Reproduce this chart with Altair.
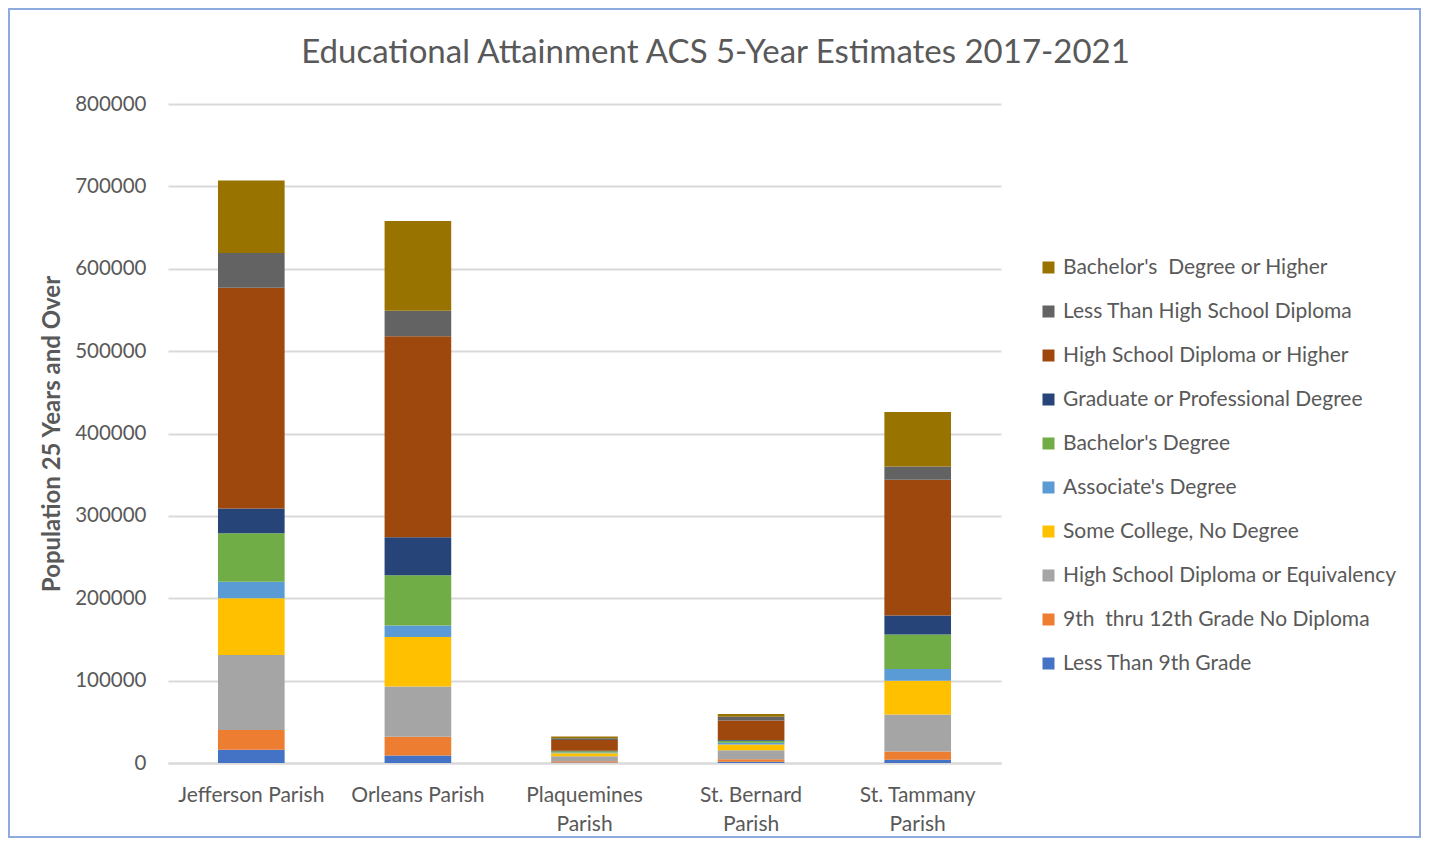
import altair as alt
import pandas as pd

parishes = ["Jefferson Parish", "Orleans Parish", "Plaquemines Parish",
            "St. Bernard Parish", "St. Tammany Parish"]

# series values (stack order bottom -> top)
less_than_9th = [16000, 9000, 700, 1500, 4000]
grade_9_12 = [24000, 23000, 1500, 3000, 10000]
hs_equiv = [91000, 61000, 6000, 11000, 45000]
some_college = [69000, 60000, 3500, 7000, 41000]
associates = [20000, 14000, 1000, 2000, 14000]
bachelors = [59000, 61000, 1500, 2500, 42000]
graduate = [30000, 46000, 800, 1000, 23000]
hs_or_higher = [268000, 244000, 12800, 23500, 165000]
less_than_hs = [42000, 31000, 2200, 4500, 16000]
bach_or_higher = [88000, 109000, 2300, 3500, 66000]

series_names = [
    "Less Than 9th Grade",
    "\u00a09th\u00a0 thru 12th Grade No Diploma",
    "High School Diploma or Equivalency",
    "Some College, No Degree",
    "Associate's Degree",
    "Bachelor's Degree",
    "Graduate or Professional Degree",
    "High School Diploma or Higher",
    "Less Than High School Diploma",
    "Bachelor's\u00a0 Degree or Higher",
]
series_values = [less_than_9th, grade_9_12, hs_equiv, some_college, associates,
                 bachelors, graduate, hs_or_higher, less_than_hs, bach_or_higher]
series_colors = ["#4472C4", "#ED7D31", "#A5A5A5", "#FFC000", "#5B9BD5",
                 "#70AD47", "#264478", "#9E480E", "#636363", "#997300"]

rows = []
for rank, (name, vals) in enumerate(zip(series_names, series_values)):
    for p, v in zip(parishes, vals):
        rows.append({"parish": p, "level": name, "value": v, "rank": rank})
df = pd.DataFrame(rows)

legend_order = series_names[::-1]
legend_colors = series_colors[::-1]

TXT = "#595959"
FONT = "Lato"

bars = alt.Chart(df).mark_bar().encode(
    x=alt.X("parish:N", sort=parishes,
            scale=alt.Scale(paddingInner=0.6, paddingOuter=0.3),
            axis=alt.Axis(title=None, labelAngle=0, labelFont=FONT, labelFontSize=21,
                          labelColor=TXT, labelPadding=21, domainColor="#d9d9d9",
                          domainWidth=2, ticks=False, labelBaseline="top",
                          labelLineHeight=29,
                          labelExpr="length(datum.label) > 16 ? [replace(datum.label, ' Parish', ''), 'Parish'] : datum.label")),
    y=alt.Y("value:Q", stack="zero",
            scale=alt.Scale(domain=[0, 800000], nice=False),
            axis=alt.Axis(values=[0, 100000, 200000, 300000, 400000, 500000, 600000, 700000, 800000],
                          format="d", title="Population 25 Years and Over",
                          titleFont=FONT, titleFontSize=24, titleFontWeight="bold",
                          titleColor=TXT, titlePadding=10,
                          labelFont=FONT, labelFontSize=20.5, labelColor=TXT,
                          labelPadding=22, domain=False, ticks=False,
                          gridColor="#d9d9d9", gridWidth=2)),
    color=alt.Color("level:N",
                    scale=alt.Scale(domain=legend_order, range=legend_colors),
                    legend=alt.Legend(title=None, orient="none", legendX=870, legendY=153,
                                      symbolType="square", symbolSize=144,
                                      symbolStrokeWidth=0, labelFont=FONT,
                                      labelFontSize=21, labelColor=TXT,
                                      rowPadding=22, labelOffset=4, labelLimit=420)),
    order=alt.Order("rank:Q", sort="ascending"),
)

frame = alt.Chart(alt.Data(values=[{}])).mark_rect(
    fillOpacity=0, stroke="#8FAADC", strokeWidth=2
).encode(x=alt.value(-159), x2=alt.value(1252), y=alt.value(-95), y2=alt.value(733))

chart = alt.layer(frame, bars).properties(
    width=833, height=659,
    background="white",
    padding={"left": 160, "top": 96, "right": 420, "bottom": 75},
    autosize=alt.AutoSizeParams(type="none"),
    title=alt.TitleParams(text="Educational Attainment ACS 5-Year Estimates 2017-2021",
                          font=FONT, fontSize=33, fontWeight="normal", color=TXT,
                          anchor="middle", frame="group", dx=131, offset=-62),
).configure_view(strokeWidth=0)

chart.save("out.html", embed_options={"renderer": "svg", "actions": False})
